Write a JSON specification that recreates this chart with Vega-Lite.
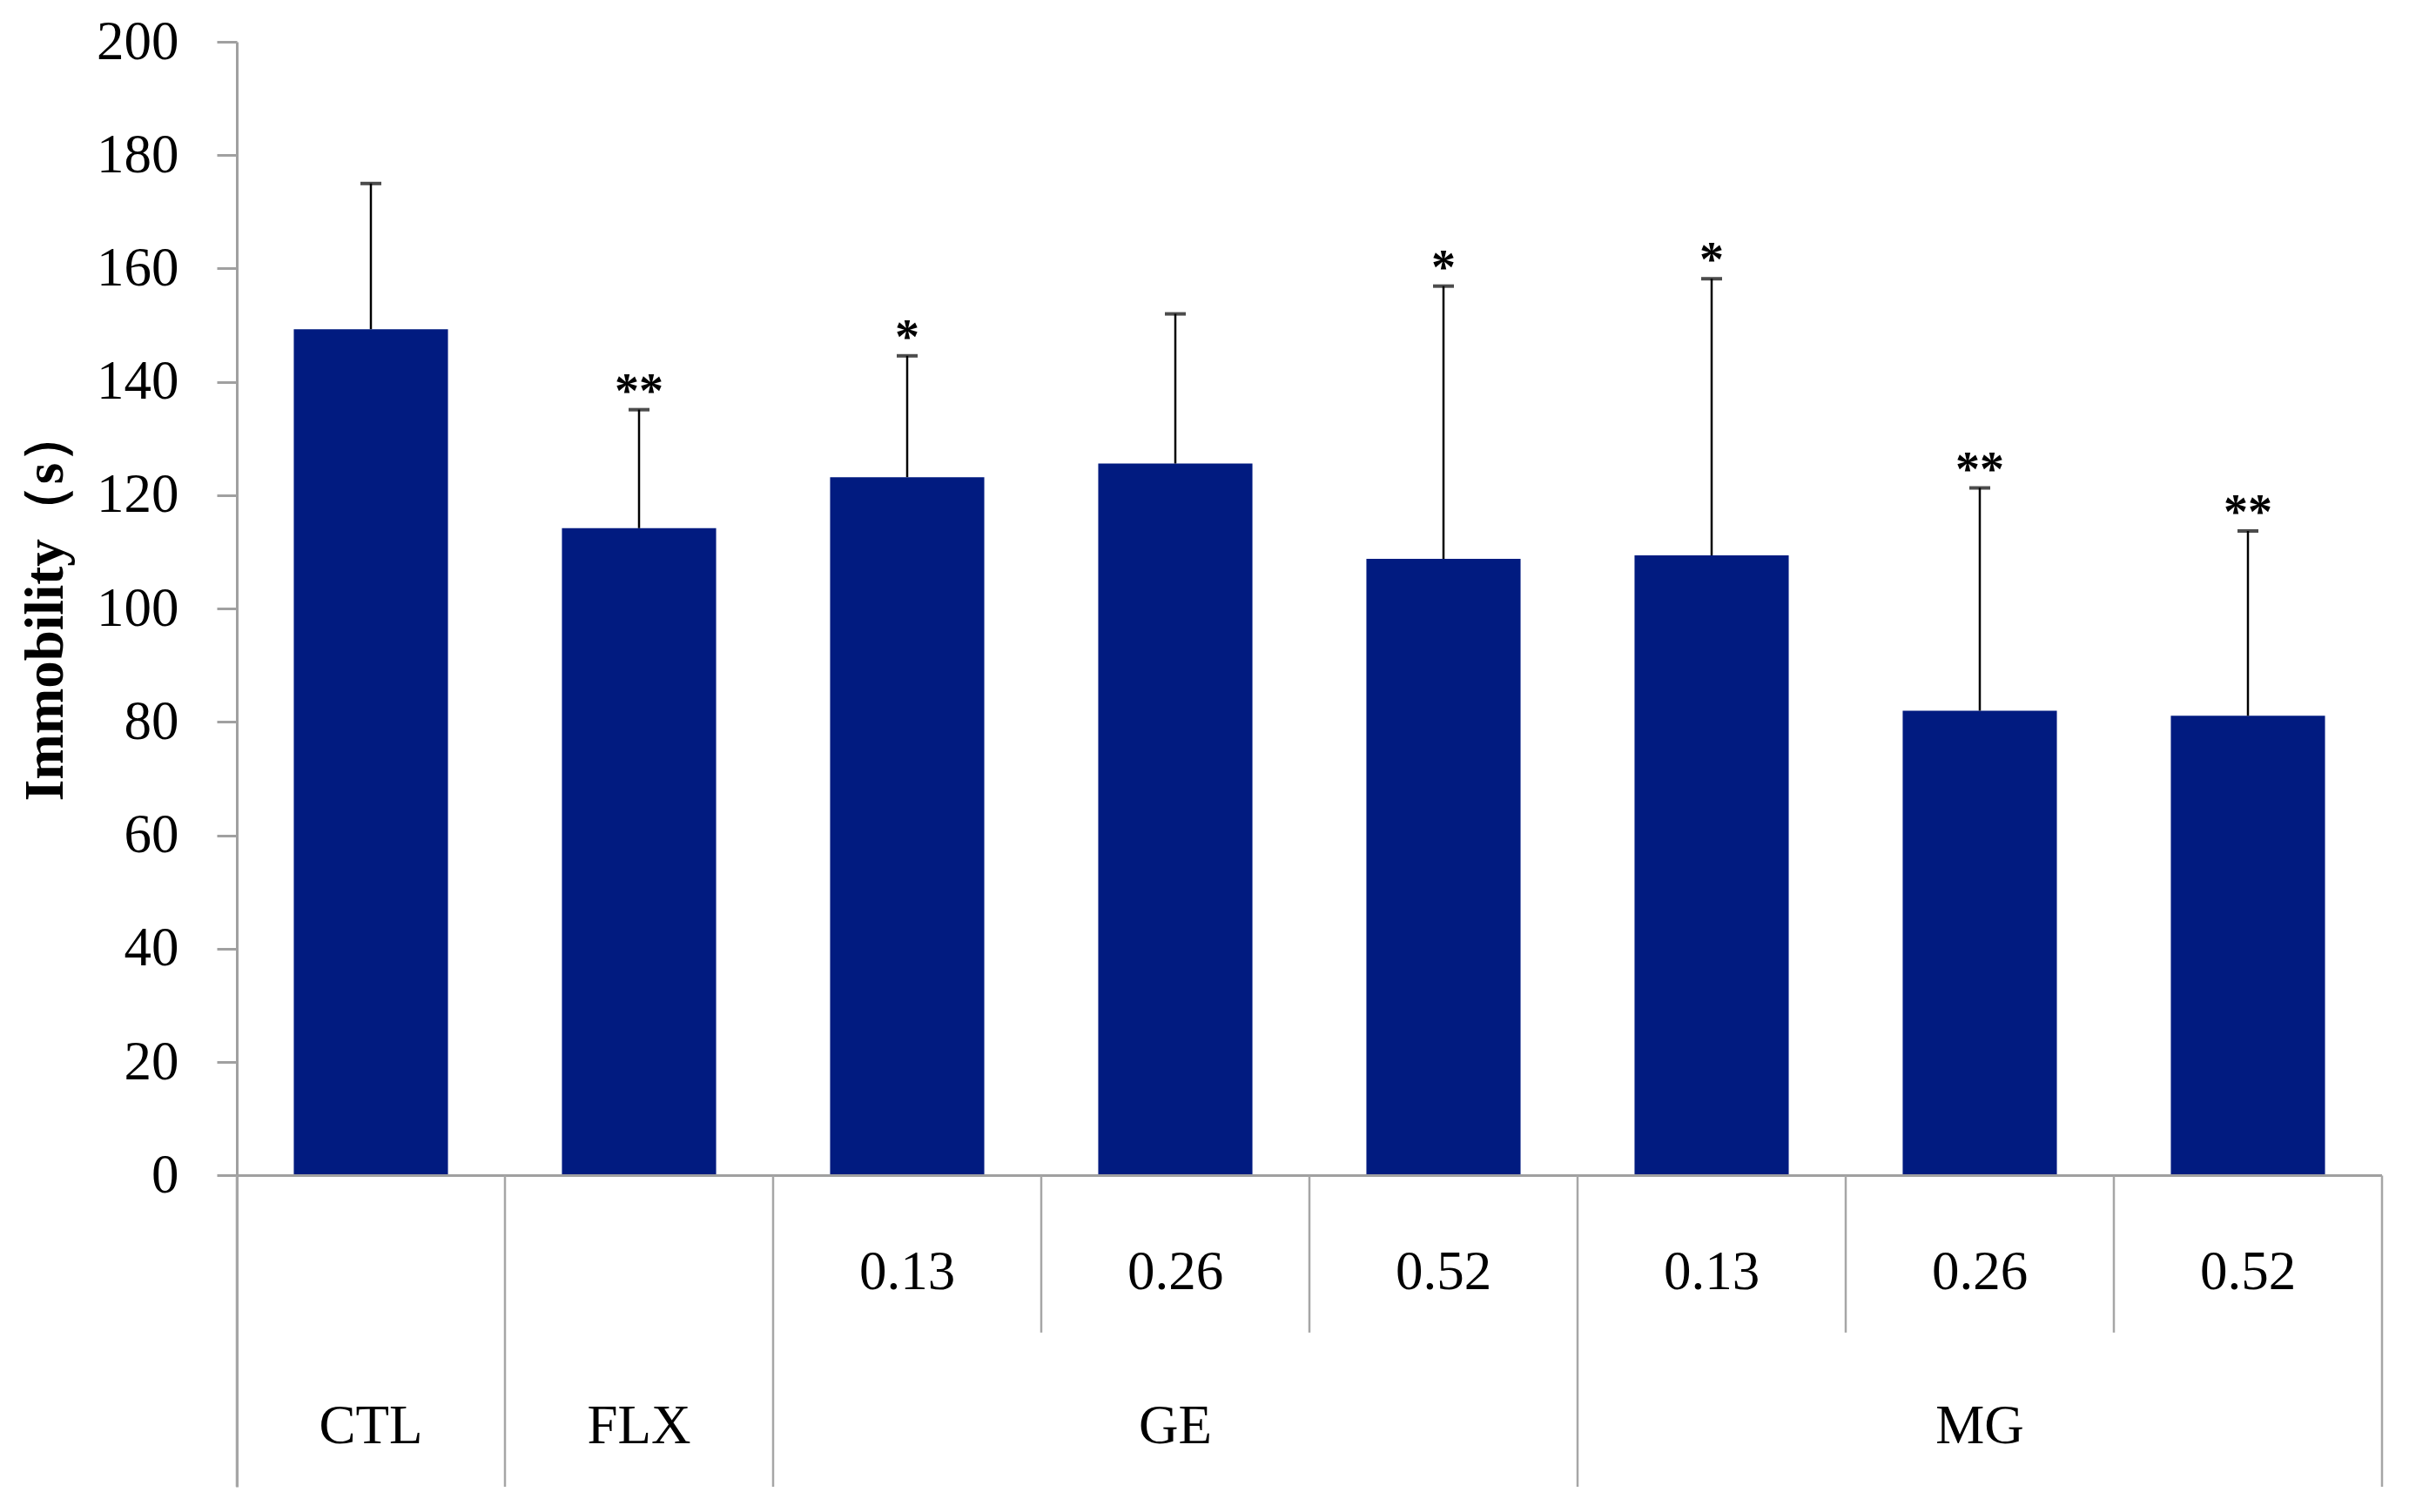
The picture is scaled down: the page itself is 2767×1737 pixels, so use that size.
{
  "$schema": "https://vega.github.io/schema/vega-lite/v6.json",
  "width": 2464,
  "height": 1660,
  "autosize": {"type": "none"},
  "padding": {"left": 272, "top": 48, "right": 31, "bottom": 29},
  "background": "white",
  "config": {"view": {"stroke": null}, "font": "Liberation Serif"},
  "data": {
    "values": [
      {"label": "CTL", "group": "CTL", "dose": "", "mean": 149.3, "upper": 175.0, "sig": ""},
      {"label": "FLX", "group": "FLX", "dose": "", "mean": 114.2, "upper": 135.1, "sig": "**"},
      {"label": "GE 0.13", "group": "GE", "dose": "0.13", "mean": 123.2, "upper": 144.6, "sig": "*"},
      {"label": "GE 0.26", "group": "GE", "dose": "0.26", "mean": 125.6, "upper": 152.0, "sig": ""},
      {"label": "GE 0.52", "group": "GE", "dose": "0.52", "mean": 108.8, "upper": 156.9, "sig": "*"},
      {"label": "MG 0.13", "group": "MG", "dose": "0.13", "mean": 109.4, "upper": 158.2, "sig": "*"},
      {"label": "MG 0.26", "group": "MG", "dose": "0.26", "mean": 82.0, "upper": 121.3, "sig": "**"},
      {"label": "MG 0.52", "group": "MG", "dose": "0.52", "mean": 81.1, "upper": 113.7, "sig": "**"}
    ]
  },
  "resolve": {"scale": {"x": "shared", "y": "shared"}},
  "layer": [
    {
      "mark": {"type": "bar", "color": "#011b80", "width": {"band": 0.575}},
      "encoding": {
        "x": {"field": "label", "type": "nominal", "scale": {"domain": ["CTL", "FLX", "GE 0.13", "GE 0.26", "GE 0.52", "MG 0.13", "MG 0.26", "MG 0.52"], "paddingInner": 0, "paddingOuter": 0}, "axis": null},
        "y": {
          "field": "mean", "type": "quantitative",
          "scale": {"domain": [-54.9, 200], "nice": false, "zero": false},
          "axis": {
            "values": [0, 20, 40, 60, 80, 100, 120, 140, 160, 180, 200],
            "title": "Immobility（s）",
            "titleFont": "Liberation Serif", "titleFontSize": 63, "titleFontWeight": "bold", "titleColor": "black",
            "titleY": 646, "titlePadding": 26,
            "labelFont": "Liberation Serif", "labelFontSize": 63, "labelColor": "black", "labelPadding": 44, "labelFlush": false,
            "tickSize": 23, "tickColor": "#a0a0a0", "tickWidth": 3,
            "domainColor": "#a0a0a0", "domainWidth": 3, "grid": false
          }
        },
        "y2": {"datum": 0}
      }
    },
    {
      "mark": {"type": "rule", "color": "#a0a0a0", "strokeWidth": 3},
      "encoding": {"y": {"datum": 0}}
    },
    {
      "mark": {"type": "rule", "color": "black", "strokeWidth": 2.5},
      "encoding": {
        "x": {"field": "label", "type": "nominal"},
        "y": {"field": "mean", "type": "quantitative"},
        "y2": {"field": "upper"}
      }
    },
    {
      "mark": {"type": "tick", "color": "black", "orient": "horizontal", "size": 24, "thickness": 4},
      "encoding": {
        "x": {"field": "label", "type": "nominal"},
        "y": {"field": "upper", "type": "quantitative"}
      }
    },
    {
      "mark": {"type": "text", "font": "Liberation Serif", "fontSize": 56, "fontWeight": "bold", "baseline": "alphabetic", "color": "black", "dy": -3},
      "encoding": {
        "x": {"field": "label", "type": "nominal"},
        "y": {"field": "upper", "type": "quantitative"},
        "text": {"field": "sig"}
      }
    },
    {
      "transform": [{"filter": "datum.dose == '' || datum.dose == '0.13'"}],
      "mark": {"type": "rule", "color": "#a6a6a6", "strokeWidth": 2.5},
      "encoding": {
        "x": {"field": "label", "type": "nominal", "bandPosition": 0},
        "y": {"datum": 0},
        "y2": {"datum": -54.9}
      }
    },
    {
      "transform": [{"filter": "datum.label == 'MG 0.52'"}],
      "mark": {"type": "rule", "color": "#a6a6a6", "strokeWidth": 2.5},
      "encoding": {
        "x": {"field": "label", "type": "nominal", "bandPosition": 1},
        "y": {"datum": 0},
        "y2": {"datum": -54.9}
      }
    },
    {
      "transform": [{"filter": "datum.dose == '0.26' || datum.dose == '0.52'"}],
      "mark": {"type": "rule", "color": "#a6a6a6", "strokeWidth": 2.5},
      "encoding": {
        "x": {"field": "label", "type": "nominal", "bandPosition": 0},
        "y": {"datum": 0},
        "y2": {"datum": -27.7}
      }
    },
    {
      "transform": [{"filter": "datum.dose != ''"}],
      "mark": {"type": "text", "font": "Liberation Serif", "fontSize": 63, "baseline": "middle", "color": "black"},
      "encoding": {
        "x": {"field": "label", "type": "nominal"},
        "y": {"datum": -17.1},
        "text": {"field": "dose"}
      }
    },
    {
      "transform": [{"filter": "datum.dose == '' || datum.dose == '0.26'"}],
      "mark": {"type": "text", "font": "Liberation Serif", "fontSize": 63, "baseline": "middle", "color": "black"},
      "encoding": {
        "x": {"field": "label", "type": "nominal"},
        "y": {"datum": -44.3},
        "text": {"field": "group"}
      }
    }
  ]
}
